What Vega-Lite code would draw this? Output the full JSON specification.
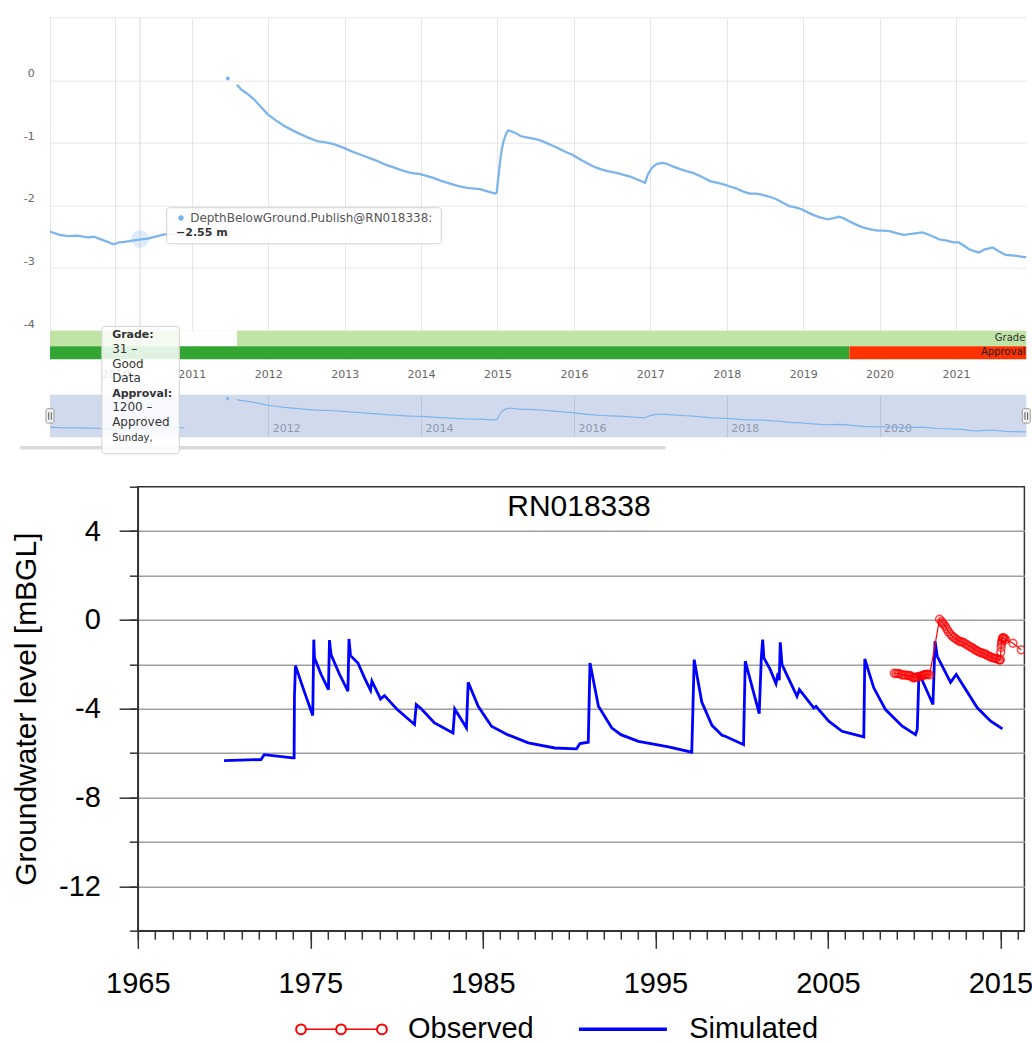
{
  "$schema": "https://vega.github.io/schema/vega-lite/v6.json",
  "background": "white",
  "padding": {"left": 10, "top": 16.7, "right": 5, "bottom": 0},
  "config": {
    "view": {"stroke": null},
    "font": "DejaVu Sans",
    "axis": {"labelFlush": false, "labelOverlap": false},
    "text": {"font": "DejaVu Sans"}
  },
  "datasets": {
    "depth": [
      {"year": 2008.85, "depth": -2.40, "seg": "A"},
      {"year": 2008.95, "depth": -2.42, "seg": "A"},
      {"year": 2009.05, "depth": -2.41, "seg": "A"},
      {"year": 2009.15, "depth": -2.42, "seg": "A"},
      {"year": 2009.27, "depth": -2.47, "seg": "A"},
      {"year": 2009.38, "depth": -2.49, "seg": "A"},
      {"year": 2009.5, "depth": -2.48, "seg": "A"},
      {"year": 2009.64, "depth": -2.51, "seg": "A"},
      {"year": 2009.72, "depth": -2.50, "seg": "A"},
      {"year": 2009.81, "depth": -2.54, "seg": "A"},
      {"year": 2009.9, "depth": -2.58, "seg": "A"},
      {"year": 2009.97, "depth": -2.62, "seg": "A"},
      {"year": 2010.05, "depth": -2.59, "seg": "A"},
      {"year": 2010.12, "depth": -2.58, "seg": "A"},
      {"year": 2010.22, "depth": -2.56, "seg": "A"},
      {"year": 2010.34, "depth": -2.54, "seg": "A"},
      {"year": 2010.42, "depth": -2.53, "seg": "A"},
      {"year": 2010.51, "depth": -2.50, "seg": "A"},
      {"year": 2010.58, "depth": -2.48, "seg": "A"},
      {"year": 2010.64, "depth": -2.46, "seg": "A"},
      {"year": 2010.72, "depth": -2.46, "seg": "A"},
      {"year": 2010.8, "depth": -2.45, "seg": "A"},
      {"year": 2010.9, "depth": -2.48, "seg": "A"},
      {"year": 2011.47, "depth": 0.03, "seg": "B"},
      {"year": 2011.59, "depth": -0.07, "seg": "C"},
      {"year": 2011.64, "depth": -0.14, "seg": "C"},
      {"year": 2011.72, "depth": -0.21, "seg": "C"},
      {"year": 2011.81, "depth": -0.30, "seg": "C"},
      {"year": 2011.9, "depth": -0.42, "seg": "C"},
      {"year": 2011.99, "depth": -0.54, "seg": "C"},
      {"year": 2012.1, "depth": -0.64, "seg": "C"},
      {"year": 2012.21, "depth": -0.73, "seg": "C"},
      {"year": 2012.32, "depth": -0.80, "seg": "C"},
      {"year": 2012.42, "depth": -0.86, "seg": "C"},
      {"year": 2012.53, "depth": -0.92, "seg": "C"},
      {"year": 2012.64, "depth": -0.97, "seg": "C"},
      {"year": 2012.75, "depth": -0.99, "seg": "C"},
      {"year": 2012.86, "depth": -1.02, "seg": "C"},
      {"year": 2012.99, "depth": -1.08, "seg": "C"},
      {"year": 2013.1, "depth": -1.14, "seg": "C"},
      {"year": 2013.21, "depth": -1.19, "seg": "C"},
      {"year": 2013.32, "depth": -1.24, "seg": "C"},
      {"year": 2013.43, "depth": -1.29, "seg": "C"},
      {"year": 2013.54, "depth": -1.35, "seg": "C"},
      {"year": 2013.64, "depth": -1.39, "seg": "C"},
      {"year": 2013.75, "depth": -1.44, "seg": "C"},
      {"year": 2013.86, "depth": -1.48, "seg": "C"},
      {"year": 2013.99, "depth": -1.50, "seg": "C"},
      {"year": 2014.08, "depth": -1.53, "seg": "C"},
      {"year": 2014.16, "depth": -1.56, "seg": "C"},
      {"year": 2014.27, "depth": -1.61, "seg": "C"},
      {"year": 2014.38, "depth": -1.65, "seg": "C"},
      {"year": 2014.49, "depth": -1.69, "seg": "C"},
      {"year": 2014.6, "depth": -1.72, "seg": "C"},
      {"year": 2014.7, "depth": -1.73, "seg": "C"},
      {"year": 2014.77, "depth": -1.74, "seg": "C"},
      {"year": 2014.88, "depth": -1.78, "seg": "C"},
      {"year": 2014.97, "depth": -1.81, "seg": "C"},
      {"year": 2014.99, "depth": -1.79, "seg": "C"},
      {"year": 2015.02, "depth": -1.45, "seg": "C"},
      {"year": 2015.04, "depth": -1.24, "seg": "C"},
      {"year": 2015.06, "depth": -1.08, "seg": "C"},
      {"year": 2015.08, "depth": -0.97, "seg": "C"},
      {"year": 2015.11, "depth": -0.86, "seg": "C"},
      {"year": 2015.14, "depth": -0.80, "seg": "C"},
      {"year": 2015.17, "depth": -0.81, "seg": "C"},
      {"year": 2015.23, "depth": -0.84, "seg": "C"},
      {"year": 2015.3, "depth": -0.89, "seg": "C"},
      {"year": 2015.38, "depth": -0.91, "seg": "C"},
      {"year": 2015.47, "depth": -0.93, "seg": "C"},
      {"year": 2015.56, "depth": -0.96, "seg": "C"},
      {"year": 2015.64, "depth": -1.00, "seg": "C"},
      {"year": 2015.73, "depth": -1.05, "seg": "C"},
      {"year": 2015.82, "depth": -1.10, "seg": "C"},
      {"year": 2015.9, "depth": -1.15, "seg": "C"},
      {"year": 2015.98, "depth": -1.19, "seg": "C"},
      {"year": 2016.05, "depth": -1.24, "seg": "C"},
      {"year": 2016.12, "depth": -1.29, "seg": "C"},
      {"year": 2016.21, "depth": -1.35, "seg": "C"},
      {"year": 2016.3, "depth": -1.40, "seg": "C"},
      {"year": 2016.38, "depth": -1.43, "seg": "C"},
      {"year": 2016.47, "depth": -1.46, "seg": "C"},
      {"year": 2016.56, "depth": -1.48, "seg": "C"},
      {"year": 2016.65, "depth": -1.51, "seg": "C"},
      {"year": 2016.74, "depth": -1.54, "seg": "C"},
      {"year": 2016.82, "depth": -1.58, "seg": "C"},
      {"year": 2016.88, "depth": -1.61, "seg": "C"},
      {"year": 2016.93, "depth": -1.64, "seg": "C"},
      {"year": 2016.97, "depth": -1.50, "seg": "C"},
      {"year": 2017.02, "depth": -1.40, "seg": "C"},
      {"year": 2017.08, "depth": -1.34, "seg": "C"},
      {"year": 2017.15, "depth": -1.32, "seg": "C"},
      {"year": 2017.21, "depth": -1.33, "seg": "C"},
      {"year": 2017.3, "depth": -1.38, "seg": "C"},
      {"year": 2017.39, "depth": -1.42, "seg": "C"},
      {"year": 2017.47, "depth": -1.45, "seg": "C"},
      {"year": 2017.56, "depth": -1.48, "seg": "C"},
      {"year": 2017.67, "depth": -1.54, "seg": "C"},
      {"year": 2017.78, "depth": -1.61, "seg": "C"},
      {"year": 2017.88, "depth": -1.64, "seg": "C"},
      {"year": 2017.98, "depth": -1.67, "seg": "C"},
      {"year": 2018.05, "depth": -1.70, "seg": "C"},
      {"year": 2018.13, "depth": -1.73, "seg": "C"},
      {"year": 2018.22, "depth": -1.78, "seg": "C"},
      {"year": 2018.3, "depth": -1.81, "seg": "C"},
      {"year": 2018.39, "depth": -1.81, "seg": "C"},
      {"year": 2018.47, "depth": -1.83, "seg": "C"},
      {"year": 2018.56, "depth": -1.86, "seg": "C"},
      {"year": 2018.65, "depth": -1.90, "seg": "C"},
      {"year": 2018.74, "depth": -1.96, "seg": "C"},
      {"year": 2018.82, "depth": -2.01, "seg": "C"},
      {"year": 2018.9, "depth": -2.03, "seg": "C"},
      {"year": 2018.98, "depth": -2.06, "seg": "C"},
      {"year": 2019.06, "depth": -2.11, "seg": "C"},
      {"year": 2019.13, "depth": -2.15, "seg": "C"},
      {"year": 2019.22, "depth": -2.19, "seg": "C"},
      {"year": 2019.32, "depth": -2.22, "seg": "C"},
      {"year": 2019.4, "depth": -2.20, "seg": "C"},
      {"year": 2019.47, "depth": -2.18, "seg": "C"},
      {"year": 2019.54, "depth": -2.21, "seg": "C"},
      {"year": 2019.6, "depth": -2.25, "seg": "C"},
      {"year": 2019.7, "depth": -2.31, "seg": "C"},
      {"year": 2019.78, "depth": -2.35, "seg": "C"},
      {"year": 2019.88, "depth": -2.38, "seg": "C"},
      {"year": 2019.97, "depth": -2.40, "seg": "C"},
      {"year": 2020.05, "depth": -2.40, "seg": "C"},
      {"year": 2020.13, "depth": -2.41, "seg": "C"},
      {"year": 2020.22, "depth": -2.44, "seg": "C"},
      {"year": 2020.32, "depth": -2.47, "seg": "C"},
      {"year": 2020.44, "depth": -2.45, "seg": "C"},
      {"year": 2020.56, "depth": -2.43, "seg": "C"},
      {"year": 2020.67, "depth": -2.48, "seg": "C"},
      {"year": 2020.78, "depth": -2.54, "seg": "C"},
      {"year": 2020.88, "depth": -2.56, "seg": "C"},
      {"year": 2020.97, "depth": -2.59, "seg": "C"},
      {"year": 2021.04, "depth": -2.59, "seg": "C"},
      {"year": 2021.1, "depth": -2.64, "seg": "C"},
      {"year": 2021.17, "depth": -2.70, "seg": "C"},
      {"year": 2021.24, "depth": -2.73, "seg": "C"},
      {"year": 2021.3, "depth": -2.75, "seg": "C"},
      {"year": 2021.38, "depth": -2.70, "seg": "C"},
      {"year": 2021.48, "depth": -2.67, "seg": "C"},
      {"year": 2021.56, "depth": -2.73, "seg": "C"},
      {"year": 2021.65, "depth": -2.79, "seg": "C"},
      {"year": 2021.76, "depth": -2.80, "seg": "C"},
      {"year": 2021.87, "depth": -2.82, "seg": "C"},
      {"year": 2021.93, "depth": -2.83, "seg": "C"}
    ],
    "simulated": [
      {"year": 1970.0, "level": -6.34},
      {"year": 1972.14, "level": -6.29},
      {"year": 1972.33, "level": -6.07},
      {"year": 1973.98, "level": -6.22},
      {"year": 1974.06, "level": -6.22},
      {"year": 1974.08, "level": -3.44},
      {"year": 1974.14, "level": -2.06},
      {"year": 1974.64, "level": -3.21},
      {"year": 1975.14, "level": -4.31},
      {"year": 1975.2, "level": -0.89},
      {"year": 1975.24, "level": -1.71},
      {"year": 1975.62, "level": -2.45},
      {"year": 1976.05, "level": -3.14},
      {"year": 1976.11, "level": -0.91},
      {"year": 1976.2, "level": -1.56},
      {"year": 1976.69, "level": -2.45},
      {"year": 1977.18, "level": -3.21},
      {"year": 1977.24, "level": -0.86},
      {"year": 1977.33, "level": -1.61},
      {"year": 1977.76, "level": -1.94},
      {"year": 1978.14, "level": -2.61},
      {"year": 1978.49, "level": -3.17},
      {"year": 1978.57, "level": -2.76},
      {"year": 1979.07, "level": -3.56},
      {"year": 1979.3, "level": -3.41},
      {"year": 1980.04, "level": -4.04},
      {"year": 1981.04, "level": -4.71},
      {"year": 1981.14, "level": -3.81},
      {"year": 1981.43, "level": -4.0},
      {"year": 1982.01, "level": -4.49},
      {"year": 1982.2, "level": -4.64},
      {"year": 1983.27, "level": -5.09},
      {"year": 1983.37, "level": -4.01},
      {"year": 1984.05, "level": -4.86},
      {"year": 1984.15, "level": -2.81},
      {"year": 1984.73, "level": -3.89},
      {"year": 1985.5, "level": -4.79},
      {"year": 1986.43, "level": -5.17},
      {"year": 1987.63, "level": -5.54},
      {"year": 1989.17, "level": -5.77},
      {"year": 1990.43, "level": -5.81},
      {"year": 1990.63, "level": -5.57},
      {"year": 1991.11, "level": -5.51},
      {"year": 1991.21, "level": -1.94},
      {"year": 1991.7, "level": -3.89},
      {"year": 1992.47, "level": -4.86},
      {"year": 1993.0, "level": -5.17},
      {"year": 1994.02, "level": -5.47},
      {"year": 1995.76, "level": -5.72},
      {"year": 1997.11, "level": -5.96},
      {"year": 1997.25, "level": -1.79},
      {"year": 1997.69, "level": -3.7},
      {"year": 1998.28, "level": -4.75},
      {"year": 1998.86, "level": -5.2},
      {"year": 1999.05, "level": -5.24},
      {"year": 2000.11, "level": -5.62},
      {"year": 2000.21, "level": -1.86},
      {"year": 2001.02, "level": -4.22},
      {"year": 2001.14, "level": -1.71},
      {"year": 2001.22, "level": -0.89},
      {"year": 2001.29, "level": -1.71},
      {"year": 2001.66, "level": -2.24},
      {"year": 2001.99, "level": -2.87},
      {"year": 2002.11, "level": -2.39},
      {"year": 2002.18, "level": -2.72},
      {"year": 2002.24, "level": -1.01},
      {"year": 2002.34, "level": -2.01},
      {"year": 2003.21, "level": -3.44},
      {"year": 2003.35, "level": -3.14},
      {"year": 2004.18, "level": -3.96},
      {"year": 2004.31, "level": -3.89},
      {"year": 2005.05, "level": -4.56},
      {"year": 2005.82, "level": -5.02},
      {"year": 2007.08, "level": -5.27},
      {"year": 2007.14, "level": -1.76},
      {"year": 2007.66, "level": -3.06},
      {"year": 2008.34, "level": -4.04},
      {"year": 2009.31, "level": -4.79},
      {"year": 2010.08, "level": -5.17},
      {"year": 2010.18, "level": -4.94},
      {"year": 2010.28, "level": -2.39},
      {"year": 2011.09, "level": -3.81},
      {"year": 2011.21, "level": -0.96},
      {"year": 2011.34, "level": -1.64},
      {"year": 2012.11, "level": -2.81},
      {"year": 2012.44, "level": -2.46},
      {"year": 2013.66, "level": -3.96},
      {"year": 2014.44, "level": -4.56},
      {"year": 2015.12, "level": -4.91}
    ],
    "tooltip": [
      {"series": "DepthBelowGround.Publish@RN018338:", "value": "−2.55 m", "gradeHead": "Grade:", "grade": ["31 –", "Good", "Data"], "approvalHead": "Approval:", "approval": ["\u00a01200 –", "Approved"], "date": "Sunday,"}
    ]
  },
  "resolve": {"scale": {"color": "independent", "fill": "independent"}},
  "bounds": "flush",
  "spacing": 35,
  "vconcat": [
    {
      "width": 976.3,
      "height": 341.6,
      "resolve": {"axis": {"x": "independent", "y": "independent"}},
      "layer": [
        {
          "data": {"values": [{}]},
          "mark": {"type": "rule", "color": "#e6e6e6", "strokeWidth": 1},
          "encoding": {"y": {"datum": 1.0, "type": "quantitative", "axis": null}}
        },
        {
          "data": {"values": [{}]},
          "mark": {"type": "rule", "color": "#d9d9d9", "strokeWidth": 1},
          "encoding": {
            "x": {"datum": 2010.323, "type": "quantitative", "axis": null},
            "y": {"datum": 1.0, "type": "quantitative", "axis": null},
            "y2": {"datum": -4.0}
          }
        },
        {
          "data": {"name": "depth"},
          "mark": {"type": "line", "color": "#7cb5ec", "strokeWidth": 2.3, "clip": true},
          "encoding": {
            "x": {
              "field": "year", "type": "quantitative",
              "scale": {"domain": [2009.144, 2021.92], "nice": false, "zero": false},
              "axis": {
                "orient": "bottom",
                "values": [2010, 2011, 2012, 2013, 2014, 2015, 2016, 2017, 2018, 2019, 2020, 2021],
                "format": "d", "title": null, "grid": true, "gridColor": "#e6e6e6", "gridWidth": 1,
                "ticks": false, "tickSize": 0, "domain": false,
                "labelColor": "#666666", "labelFontSize": 11, "labelFont": "DejaVu Sans",
                "labelPadding": 15.7, "labelBaseline": "middle"
              }
            },
            "y": {
              "field": "depth", "type": "quantitative",
              "scale": {"domain": [-4.457, 1.0], "nice": false, "zero": false},
              "axis": {
                "orient": "left",
                "values": [-4, -3, -2, -1, 0],
                "labelExpr": "replace(datum.label, '−', '-')",
                "title": null, "grid": true, "gridColor": "#e6e6e6", "gridWidth": 1,
                "ticks": false, "tickSize": 0, "domain": true, "domainColor": "#e6e6e6", "domainWidth": 1,
                "labelColor": "#666666", "labelFontSize": 11, "labelFont": "DejaVu Sans",
                "labelPadding": 15.7, "labelOffset": -6.5
              }
            },
            "detail": {"field": "seg"}
          }
        },
        {
          "data": {"name": "depth"},
          "transform": [{"filter": "datum.seg === 'B'"}],
          "mark": {"type": "circle", "color": "#7cb5ec", "size": 16, "opacity": 1},
          "encoding": {
            "x": {"field": "year", "type": "quantitative", "axis": null},
            "y": {"field": "depth", "type": "quantitative", "axis": null}
          }
        },
        {
          "data": {"values": [{}]},
          "mark": {"type": "circle", "color": "#7cb5ec", "opacity": 0.25, "size": 320},
          "encoding": {
            "x": {"datum": 2010.323, "type": "quantitative", "axis": null},
            "y": {"datum": -2.536, "type": "quantitative", "axis": null}
          }
        },
        {
          "data": {"values": [
            {"start": 2009.144, "end": 2010.83, "status": "31 – Good Data"},
            {"start": 2010.83, "end": 2011.59, "status": "No grade"},
            {"start": 2011.59, "end": 2021.92, "status": "31 – Good Data"}
          ]},
          "mark": {"type": "rect"},
          "encoding": {
            "x": {"field": "start", "type": "quantitative", "axis": null},
            "x2": {"field": "end"},
            "y": {"datum": -4.0, "type": "quantitative", "axis": null},
            "y2": {"datum": -4.246},
            "fill": {
              "field": "status", "type": "nominal",
              "scale": {"domain": ["31 – Good Data", "No grade", "1200 – Approved", "Not approved"], "range": ["#c0e4a6", "#ffffff", "#33a532", "#ff3300"]},
              "legend": null
            }
          }
        },
        {
          "data": {"values": [
            {"start": 2009.144, "end": 2019.604, "status": "1200 – Approved"},
            {"start": 2019.604, "end": 2021.92, "status": "Not approved"}
          ]},
          "mark": {"type": "rect"},
          "encoding": {
            "x": {"field": "start", "type": "quantitative", "axis": null},
            "x2": {"field": "end"},
            "y": {"datum": -4.25, "type": "quantitative", "axis": null},
            "y2": {"datum": -4.457},
            "fill": {"field": "status", "type": "nominal", "legend": null}
          }
        },
        {
          "data": {"values": [{"label": "Grade"}]},
          "mark": {"type": "text", "align": "right", "baseline": "middle", "dx": -1, "fontSize": 10, "color": "#333333"},
          "encoding": {
            "x": {"datum": 2021.92, "type": "quantitative", "axis": null},
            "y": {"datum": -4.114, "type": "quantitative", "axis": null},
            "text": {"field": "label"}
          }
        },
        {
          "data": {"values": [{"label": "Approval"}]},
          "mark": {"type": "text", "align": "right", "baseline": "middle", "dx": -1, "fontSize": 10, "color": "#222222"},
          "encoding": {
            "x": {"datum": 2021.92, "type": "quantitative", "axis": null},
            "y": {"datum": -4.342, "type": "quantitative", "axis": null},
            "text": {"field": "label"}
          }
        },
        {
          "data": {"values": [{}]},
          "mark": {"type": "rect", "fill": "#ffffff", "fillOpacity": 0.9, "stroke": "#d0d0d0", "strokeWidth": 1, "cornerRadius": 3},
          "encoding": {
            "x": {"datum": 2010.671, "type": "quantitative", "axis": null},
            "x2": {"datum": 2014.265},
            "y": {"datum": -2.036, "type": "quantitative", "axis": null},
            "y2": {"datum": -2.611}
          }
        },
        {
          "data": {"values": [{}]},
          "mark": {"type": "circle", "color": "#7cb5ec", "opacity": 1, "size": 30},
          "encoding": {
            "x": {"datum": 2010.858, "type": "quantitative", "axis": null},
            "y": {"datum": -2.2, "type": "quantitative", "axis": null}
          }
        },
        {
          "data": {"name": "tooltip"},
          "mark": {"type": "text", "align": "left", "baseline": "middle", "fontSize": 12, "color": "#555555"},
          "encoding": {
            "x": {"datum": 2010.978, "type": "quantitative", "axis": null},
            "y": {"datum": -2.2, "type": "quantitative", "axis": null},
            "text": {"field": "series"}
          }
        },
        {
          "data": {"name": "tooltip"},
          "mark": {"type": "text", "align": "left", "baseline": "middle", "fontSize": 11, "fontWeight": "bold", "color": "#333333"},
          "encoding": {
            "x": {"datum": 2010.794, "type": "quantitative", "axis": null},
            "y": {"datum": -2.44, "type": "quantitative", "axis": null},
            "text": {"field": "value"}
          }
        }
      ]
    },
    {
      "width": 976.3,
      "height": 56.1,
      "view": {"fill": "#d1daed", "stroke": null},
      "resolve": {"axis": {"x": "independent", "y": "independent"}},
      "layer": [
        {
          "data": {"name": "depth"},
          "mark": {"type": "line", "color": "#7cb5ec", "strokeWidth": 1.2, "clip": true},
          "encoding": {
            "x": {
              "field": "year", "type": "quantitative",
              "scale": {"domain": [2009.144, 2021.92], "nice": false, "zero": false},
              "axis": {
                "orient": "bottom",
                "values": [2012, 2014, 2016, 2018, 2020], "format": "d", "title": null,
                "grid": true, "gridColor": "#bcc5d9", "gridWidth": 1,
                "ticks": false, "tickSize": 0, "domain": false,
                "labelAlign": "left", "labelOffset": 4, "labelPadding": -22.1, "labelBaseline": "middle",
                "labelColor": "#8f98ad", "labelFontSize": 11, "labelFont": "DejaVu Sans"
              }
            },
            "y": {
              "field": "depth", "type": "quantitative",
              "scale": {"domain": [-4.445, 0.35], "nice": false, "zero": false},
              "axis": null
            },
            "detail": {"field": "seg"}
          }
        },
        {
          "data": {"name": "depth"},
          "transform": [{"filter": "datum.seg === 'B'"}],
          "mark": {"type": "circle", "color": "#7cb5ec", "size": 12, "opacity": 1},
          "encoding": {
            "x": {"field": "year", "type": "quantitative", "axis": null},
            "y": {"field": "depth", "type": "quantitative", "axis": null}
          }
        },
        {
          "data": {"values": [{}]},
          "mark": {"type": "rect", "fill": "#ffffff"},
          "encoding": {
            "x": {"datum": 2009.0, "type": "quantitative", "axis": null},
            "x2": {"datum": 2022.0},
            "y": {"datum": -3.28, "type": "quantitative", "axis": null},
            "y2": {"datum": -4.5}
          }
        },
        {
          "data": {"values": [{}]},
          "mark": {"type": "rect", "fill": "#d9d9d9"},
          "encoding": {
            "x": {"datum": 2008.756, "type": "quantitative", "axis": null},
            "x2": {"datum": 2017.198},
            "y": {"datum": -4.03, "type": "quantitative", "axis": null},
            "y2": {"datum": -4.33}
          }
        },
        {
          "data": {"values": [{}]},
          "mark": {"type": "rect", "fill": "#f2f2f2", "stroke": "#999999", "strokeWidth": 1, "cornerRadius": 1.5},
          "encoding": {
            "x": {"datum": 2009.092, "type": "quantitative", "axis": null},
            "x2": {"datum": 2009.196},
            "y": {"datum": -0.847, "type": "quantitative", "axis": null},
            "y2": {"datum": -2.077}
          }
        },
        {
          "data": {"values": [{}]},
          "mark": {"type": "rect", "fill": "#f2f2f2", "stroke": "#999999", "strokeWidth": 1, "cornerRadius": 1.5},
          "encoding": {
            "x": {"datum": 2021.868, "type": "quantitative", "axis": null},
            "x2": {"datum": 2021.972},
            "y": {"datum": -0.847, "type": "quantitative", "axis": null},
            "y2": {"datum": -2.077}
          }
        },
        {
          "data": {"values": [{}]},
          "mark": {"type": "rule", "color": "#555555", "strokeWidth": 1},
          "encoding": {
            "x": {"datum": 2009.127, "type": "quantitative", "axis": null},
            "y": {"datum": -1.15, "type": "quantitative", "axis": null},
            "y2": {"datum": -1.8}
          }
        },
        {
          "data": {"values": [{}]},
          "mark": {"type": "rule", "color": "#555555", "strokeWidth": 1},
          "encoding": {
            "x": {"datum": 2009.161, "type": "quantitative", "axis": null},
            "y": {"datum": -1.15, "type": "quantitative", "axis": null},
            "y2": {"datum": -1.8}
          }
        },
        {
          "data": {"values": [{}]},
          "mark": {"type": "rule", "color": "#555555", "strokeWidth": 1},
          "encoding": {
            "x": {"datum": 2021.903, "type": "quantitative", "axis": null},
            "y": {"datum": -1.15, "type": "quantitative", "axis": null},
            "y2": {"datum": -1.8}
          }
        },
        {
          "data": {"values": [{}]},
          "mark": {"type": "rule", "color": "#555555", "strokeWidth": 1},
          "encoding": {
            "x": {"datum": 2021.937, "type": "quantitative", "axis": null},
            "y": {"datum": -1.15, "type": "quantitative", "axis": null},
            "y2": {"datum": -1.8}
          }
        },
        {
          "data": {"values": [{}]},
          "mark": {"type": "rect", "fill": "#ffffff", "fillOpacity": 0.85, "stroke": "#d0d0d0", "strokeWidth": 1, "cornerRadius": 3},
          "encoding": {
            "x": {"datum": 2009.822, "type": "quantitative", "axis": null},
            "x2": {"datum": 2010.836},
            "y": {"datum": 6.19, "type": "quantitative", "axis": null},
            "y2": {"datum": -4.7}
          }
        },
        {
          "data": {"name": "tooltip"},
          "mark": {"type": "text", "align": "left", "baseline": "top", "fontSize": 11, "fontWeight": "bold", "color": "#333333"},
          "encoding": {
            "x": {"datum": 2009.957, "type": "quantitative", "axis": null},
            "y": {"datum": 5.93, "type": "quantitative", "axis": null},
            "text": {"field": "gradeHead"}
          }
        },
        {
          "data": {"name": "tooltip"},
          "mark": {"type": "text", "align": "left", "baseline": "top", "fontSize": 12, "lineHeight": 14.6, "color": "#333333"},
          "encoding": {
            "x": {"datum": 2009.957, "type": "quantitative", "axis": null},
            "y": {"datum": 4.682, "type": "quantitative", "axis": null},
            "text": {"field": "grade"}
          }
        },
        {
          "data": {"name": "tooltip"},
          "mark": {"type": "text", "align": "left", "baseline": "top", "fontSize": 11, "fontWeight": "bold", "color": "#333333"},
          "encoding": {
            "x": {"datum": 2009.957, "type": "quantitative", "axis": null},
            "y": {"datum": 0.938, "type": "quantitative", "axis": null},
            "text": {"field": "approvalHead"}
          }
        },
        {
          "data": {"name": "tooltip"},
          "mark": {"type": "text", "align": "left", "baseline": "top", "fontSize": 12, "lineHeight": 14.6, "color": "#333333"},
          "encoding": {
            "x": {"datum": 2009.957, "type": "quantitative", "axis": null},
            "y": {"datum": -0.31, "type": "quantitative", "axis": null},
            "text": {"field": "approval"}
          }
        },
        {
          "data": {"name": "tooltip"},
          "mark": {"type": "text", "align": "left", "baseline": "middle", "fontSize": 10, "color": "#333333"},
          "encoding": {
            "x": {"datum": 2009.957, "type": "quantitative", "axis": null},
            "y": {"datum": -3.385, "type": "quantitative", "axis": null},
            "text": {"field": "date"}
          }
        }
      ]
    },
    {
      "bounds": "flush",
      "spacing": 86.8,
      "hconcat": [
        {
          "width": 1,
          "height": 444,
          "data": {"values": [{}]},
          "mark": {"type": "point", "opacity": 0}
        },
        {
          "width": 886.6,
          "height": 444,
          "view": {"stroke": "#333333", "strokeWidth": 1.5},
          "resolve": {"axis": {"x": "independent", "y": "independent"}},
          "layer": [
            {
              "data": {"name": "simulated"},
              "mark": {"type": "line", "strokeWidth": 2.8, "clip": true, "color": "#0000ff"},
              "encoding": {
                "x": {
                  "field": "year", "type": "quantitative",
                  "scale": {"domain": [1965, 2016.39], "nice": false, "zero": false},
                  "axis": {
                    "orient": "bottom",
                    "values": [1965, 1966, 1967, 1968, 1969, 1970, 1971, 1972, 1973, 1974, 1975, 1976, 1977, 1978, 1979, 1980, 1981, 1982, 1983, 1984, 1985, 1986, 1987, 1988, 1989, 1990, 1991, 1992, 1993, 1994, 1995, 1996, 1997, 1998, 1999, 2000, 2001, 2002, 2003, 2004, 2005, 2006, 2007, 2008, 2009, 2010, 2011, 2012, 2013, 2014, 2015, 2016],
                    "title": null, "labels": false, "grid": false,
                    "tickSize": 8.5, "tickColor": "#333333", "tickWidth": 1.5,
                    "domain": true, "domainColor": "#333333", "domainWidth": 1.5
                  }
                },
                "y": {
                  "field": "level", "type": "quantitative",
                  "scale": {"domain": [-14, 6], "nice": false, "zero": false},
                  "axis": {
                    "orient": "left",
                    "values": [-14, -12, -10, -8, -6, -4, -2, 0, 2, 4, 6],
                    "title": null, "labels": false,
                    "grid": true, "gridColor": "#a0a0a0", "gridWidth": 1.5,
                    "gridOpacity": {"condition": {"test": "datum.value === 6 || datum.value === -14", "value": 0}, "value": 1},
                    "tickSize": 8.4, "tickColor": "#333333", "tickWidth": 1.5,
                    "domain": true, "domainColor": "#333333", "domainWidth": 1.5
                  }
                }
              }
            },
            {
              "data": {"name": "depth"},
              "transform": [{"filter": "datum.year <= 2015.31 || datum.year === 2015.73 || datum.year === 2016.21"}],
              "mark": {"type": "line", "strokeWidth": 1.2, "clip": true, "color": "#ff0000"},
              "encoding": {
                "x": {
                  "field": "year", "type": "quantitative",
                  "axis": {
                    "orient": "bottom",
                    "values": [1965, 1975, 1985, 1995, 2005, 2015], "format": "d", "title": null, "grid": false,
                    "tickSize": 17.6, "tickColor": "#333333", "tickWidth": 1.5, "domain": false,
                    "labelFont": "Liberation Sans", "labelFontSize": 29, "labelColor": "#000000",
                    "labelPadding": 35.7, "labelBaseline": "middle"
                  }
                },
                "y": {
                  "field": "depth", "type": "quantitative",
                  "axis": {
                    "orient": "left",
                    "values": [-12, -8, -4, 0, 4],
                    "labelExpr": "replace(datum.label, '−', '-')",
                    "title": "Groundwater level [mBGL]", "grid": false, "domain": false,
                    "tickSize": 18.7, "tickColor": "#333333", "tickWidth": 1.5,
                    "labelFont": "Liberation Sans", "labelFontSize": 29, "labelColor": "#000000", "labelPadding": 18.7,
                    "titleFont": "Liberation Sans", "titleFontSize": 30, "titleFontWeight": "normal", "titleColor": "#000000", "titlePadding": 17.4
                  }
                }
              }
            },
            {
              "data": {"name": "depth"},
              "transform": [{"filter": "datum.year <= 2015.31 || datum.year === 2015.73 || datum.year === 2016.21"}],
              "mark": {"type": "point", "shape": "circle", "filled": false, "size": 60, "strokeWidth": 1.6, "clip": true, "color": "#ff0000"},
              "encoding": {
                "x": {"field": "year", "type": "quantitative", "axis": null},
                "y": {"field": "depth", "type": "quantitative", "axis": null}
              }
            },
            {
              "data": {"values": [{"station": "RN018338"}]},
              "mark": {"type": "text", "font": "Liberation Sans", "fontSize": 30, "color": "#000000", "baseline": "middle", "align": "center"},
              "encoding": {
                "x": {"datum": 1990.57, "type": "quantitative", "axis": null},
                "y": {"datum": 5.07, "type": "quantitative", "axis": null},
                "text": {"field": "station"}
              }
            },
            {
              "data": {"values": [{}]},
              "mark": {"type": "rule", "color": "#ff0000", "strokeWidth": 1.5},
              "encoding": {
                "x": {"datum": 1974.46, "type": "quantitative", "axis": null},
                "x2": {"datum": 1979.15},
                "y": {"datum": -18.44, "type": "quantitative", "axis": null}
              }
            },
            {
              "data": {"values": [{}]},
              "mark": {"type": "point", "shape": "circle", "filled": true, "fill": "#ffffff", "stroke": "#ff0000", "strokeWidth": 2, "size": 95, "opacity": 1},
              "encoding": {
                "x": {"datum": 1974.46, "type": "quantitative", "axis": null},
                "y": {"datum": -18.44, "type": "quantitative", "axis": null}
              }
            },
            {
              "data": {"values": [{}]},
              "mark": {"type": "point", "shape": "circle", "filled": true, "fill": "#ffffff", "stroke": "#ff0000", "strokeWidth": 2, "size": 95, "opacity": 1},
              "encoding": {
                "x": {"datum": 1976.78, "type": "quantitative", "axis": null},
                "y": {"datum": -18.44, "type": "quantitative", "axis": null}
              }
            },
            {
              "data": {"values": [{}]},
              "mark": {"type": "point", "shape": "circle", "filled": true, "fill": "#ffffff", "stroke": "#ff0000", "strokeWidth": 2, "size": 95, "opacity": 1},
              "encoding": {
                "x": {"datum": 1979.15, "type": "quantitative", "axis": null},
                "y": {"datum": -18.44, "type": "quantitative", "axis": null}
              }
            },
            {
              "data": {"values": [{"label": "Observed"}]},
              "mark": {"type": "text", "font": "Liberation Sans", "fontSize": 29, "color": "#000000", "baseline": "middle", "align": "left"},
              "encoding": {
                "x": {"datum": 1980.66, "type": "quantitative", "axis": null},
                "y": {"datum": -18.44, "type": "quantitative", "axis": null},
                "text": {"field": "label"}
              }
            },
            {
              "data": {"values": [{}]},
              "mark": {"type": "rule", "color": "#0000ff", "strokeWidth": 3.5},
              "encoding": {
                "x": {"datum": 1990.57, "type": "quantitative", "axis": null},
                "x2": {"datum": 1995.67},
                "y": {"datum": -18.44, "type": "quantitative", "axis": null}
              }
            },
            {
              "data": {"values": [{"label": "Simulated"}]},
              "mark": {"type": "text", "font": "Liberation Sans", "fontSize": 29, "color": "#000000", "baseline": "middle", "align": "left"},
              "encoding": {
                "x": {"datum": 1996.96, "type": "quantitative", "axis": null},
                "y": {"datum": -18.44, "type": "quantitative", "axis": null},
                "text": {"field": "label"}
              }
            }
          ]
        }
      ]
    }
  ]
}
